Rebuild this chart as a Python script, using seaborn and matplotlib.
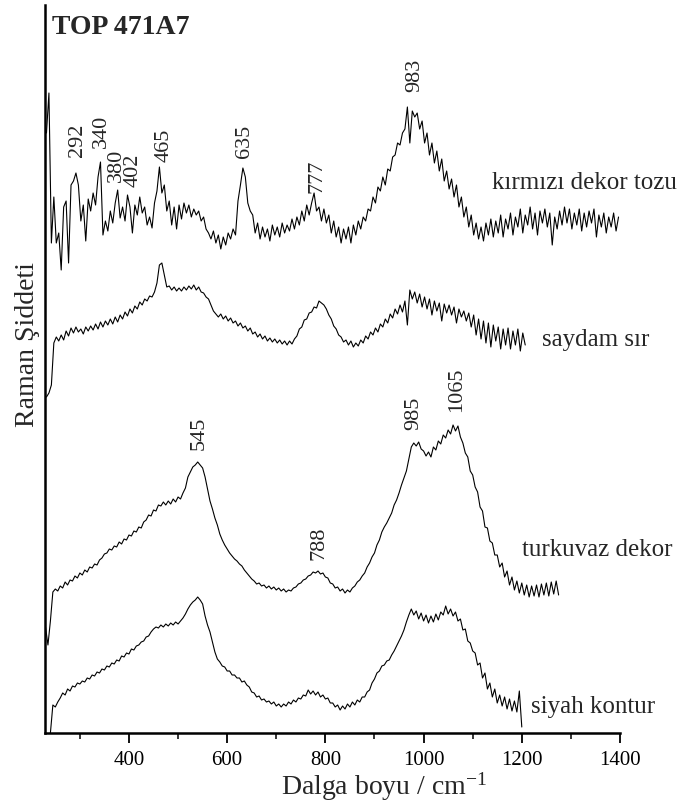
import numpy as np
import pandas as pd
import matplotlib
matplotlib.use("Agg")
import matplotlib.pyplot as plt
import seaborn as sns

# ---------------- data (intensity in arbitrary units, offset traces) ----------------
title = "TOP 471A7"
series_names = ["kırmızı dekor tozu", "saydam sır", "turkuvaz dekor", "siyah kontur"]

# wavenumber grids: start, step (cm-1)
kirmizi_start, kirmizi_step = 232, 5
saydam_start, saydam_step = 232, 5
turkuvaz_start, turkuvaz_step = 230, 5
siyah_start, siyah_step = 240, 5

kirmizi = [
    600, 640, 490, 536, 490, 500, 463, 526, 532, 470, 548, 552, 560, 548, 512, 528, 492, 534, 522, 540,
    528, 556, 571, 498, 512, 502, 522, 510, 530, 543, 515, 526, 512, 538, 526, 500, 528, 518, 536, 520,
    526, 508, 516, 505, 530, 542, 566, 540, 548, 522, 532, 508, 526, 504, 528, 514, 530, 520, 528, 516,
    524, 518, 522, 512, 516, 504, 500, 494, 502, 490, 498, 484, 496, 488, 500, 494, 504, 498, 532, 548,
    565, 556, 530, 522, 518, 500, 510, 494, 506, 496, 504, 492, 508, 498, 506, 496, 510, 500, 508, 502,
    514, 504, 516, 508, 522, 512, 528, 518, 530, 540, 522, 526, 512, 524, 510, 518, 500, 512, 496, 506,
    490, 504, 494, 506, 490, 508, 498, 512, 504, 516, 512, 524, 522, 536, 530, 546, 542, 556, 548, 564,
    562, 576, 578, 590, 588, 600, 604, 626, 590, 622, 616, 620, 604, 612, 590, 600, 578, 590, 570, 582,
    562, 574, 552, 562, 544, 554, 536, 548, 526, 536, 516, 526, 506, 518, 498, 510, 494, 506, 492, 510,
    498, 514, 496, 512, 500, 518, 496, 514, 504, 520, 498, 516, 506, 524, 500, 518, 508, 526, 504, 520,
    498, 522, 510, 524, 506, 520, 488, 516, 504, 522, 508, 526, 510, 524, 504, 520, 508, 524, 502, 520,
    506, 522, 510, 524, 496, 518, 506, 520, 500, 516, 506, 520, 502, 516,
]

saydam = [
    336, 340, 348, 390, 396, 392, 398, 393, 402, 397, 405, 400, 406, 401, 404, 399, 406, 402, 407, 403,
    409, 404, 411, 406, 412, 408, 414, 409, 416, 411, 418, 414, 421, 417, 424, 420, 427, 424, 431, 428,
    434, 432, 437, 436, 441, 450, 468, 470, 458, 446, 447, 443, 446, 442, 445, 442, 446, 443, 447, 444,
    448, 443, 446, 441, 440, 436, 434, 428, 422, 419, 416, 419, 414, 417, 412, 415, 410, 412, 407, 410,
    405, 407, 402, 405, 399, 401, 396, 399, 394, 397, 392, 395, 391, 394, 390, 393, 389, 392, 388, 392,
    389, 394, 397, 404, 406, 413, 414, 420, 421, 426, 425, 432, 430, 428, 424, 418, 414, 407, 404, 398,
    396, 391, 393, 388, 392, 386, 390, 387, 393, 390, 397, 394, 401, 398, 405, 401, 409, 406, 414, 410,
    419, 415, 424, 419, 428, 421, 432, 408, 443, 434, 441, 430, 439, 426, 436, 424, 434, 418, 432, 422,
    430, 412, 429, 420, 428, 418, 426, 410, 424, 416, 422, 412, 420, 406, 418, 398, 414, 394, 412, 390,
    410, 386, 408, 392, 406, 384, 404, 388, 405, 384, 402, 388, 404, 382, 400, 388,
]

turkuvaz = [
    106, 88, 112, 141, 144, 142, 147, 145, 151, 148, 153, 152, 157, 155, 160, 158, 163, 161, 166, 165,
    169, 168, 173, 175, 179, 180, 184, 183, 187, 186, 191, 189, 194, 193, 198, 197, 202, 201, 206, 205,
    211, 213, 218, 217, 223, 222, 228, 227, 231, 228, 232, 229, 234, 231, 236, 234, 240, 245, 256, 261,
    266, 268, 271, 268, 265, 256, 244, 232, 224, 215, 208, 199, 193, 188, 184, 180, 177, 174, 172, 169,
    167, 163, 160, 157, 154, 152, 149, 150, 147, 148, 145, 147, 144, 146, 143, 145, 142, 144, 141, 143,
    142, 145, 146, 149, 150, 153, 154, 157, 158, 161, 160, 162, 159, 160, 156, 155, 150, 149, 145, 146,
    142, 144, 140, 143, 141, 145, 147, 151, 153, 157, 160, 166, 170, 176, 180, 188, 193, 201, 206, 210,
    215, 220, 228, 233, 240, 248, 255, 262, 274, 286, 290, 287, 291, 284, 282, 277, 281, 276, 286, 283,
    292, 289, 298, 295, 303, 299, 308, 302, 307, 296, 290, 280, 276, 262, 258, 246, 241, 226, 222, 206,
    205, 192, 190, 178, 178, 166, 170, 156, 162, 148, 156, 143, 152, 140, 150, 138, 148, 136, 147, 137,
    148, 136, 149, 138, 150, 137, 151, 139, 152, 138,
]

siyah = [
    0, 28, 26, 31, 35, 40, 38, 44, 42, 47, 46, 50, 49, 52, 51, 55, 54, 58, 57, 61,
    60, 64, 63, 67, 66, 70, 69, 73, 72, 77, 76, 80, 79, 84, 83, 87, 88, 91, 92, 96,
    97, 101, 104, 106, 105, 108, 106, 109, 107, 110, 108, 111, 109, 112, 115, 119, 124, 128, 131, 133,
    136, 133, 129, 117, 108, 101, 91, 81, 74, 71, 67, 66, 62, 62, 58, 58, 55, 55, 51, 52,
    48, 46, 41, 40, 36, 37, 33, 34, 31, 32, 29, 31, 27, 29, 26, 29, 27, 31, 29, 33,
    31, 35, 34, 38, 37, 43, 39, 42, 38, 41, 36, 38, 34, 35, 30, 30, 26, 28, 23, 27,
    24, 29, 26, 31, 28, 33, 31, 36, 36, 41, 43, 50, 54, 60, 62, 67, 68, 72, 73, 78,
    82, 87, 92, 97, 103, 111, 118, 124, 118, 122, 114, 120, 112, 118, 110, 117, 111, 119, 113, 121,
    118, 127, 119, 124, 117, 121, 112, 114, 103, 104, 92, 90, 82, 80, 68, 70, 55, 60, 44, 50,
    36, 44, 30, 38, 27, 36, 24, 34, 22, 32, 21, 42, 6,
]

# peak annotations: label, wavenumber, height of label bottom
peak_labels = ["292", "340", "380", "402", "465", "635", "777", "983", "545", "788", "985", "1065"]
peak_x = [295, 344, 375, 408, 472, 636, 782, 981, 544, 788, 979, 1067]
peak_y = [576, 585, 551, 546, 571, 575, 540, 641, 283, 173, 303, 321]

# series name positions
name_x = [1139, 1242, 1201, 1219]
name_y = [550, 393, 183, 26]

xlim = (229, 1400)
ylim = (0, 728)
xticks_major = [400, 600, 800, 1000, 1200, 1400]
xticks_minor = [300, 500, 700, 900, 1100, 1300]

# ---------------- build long table ----------------
frames = []
for name, vals, start, step in [
    (series_names[0], kirmizi, kirmizi_start, kirmizi_step),
    (series_names[1], saydam, saydam_start, saydam_step),
    (series_names[2], turkuvaz, turkuvaz_start, turkuvaz_step),
    (series_names[3], siyah, siyah_start, siyah_step),
]:
    xs = start + step * np.arange(len(vals))
    frames.append(pd.DataFrame({"wn": xs, "I": vals, "series": name}))
df = pd.concat(frames, ignore_index=True)

# ---------------- plot ----------------
sns.set_theme(style="ticks")
plt.rcParams["font.family"] = ["Liberation Serif", "DejaVu Serif"]
plt.rcParams["mathtext.default"] = "regular"

fig = plt.figure(figsize=(6.81, 8.09), dpi=100)
ax = fig.add_axes([45 / 681, 76 / 809, 575 / 681, 728 / 809])

sns.lineplot(data=df, x="wn", y="I", hue="series", units="series",
             palette=["black"] * 4, estimator=None, sort=False,
             legend=False, linewidth=0.8, ax=ax)

ax.set_xlim(*xlim)
ax.set_ylim(*ylim)
ax.set_xticks(xticks_major)
ax.set_xticks(xticks_minor, minor=True)
ax.set_xticklabels([str(t) for t in xticks_major], fontsize=15)
ax.set_yticks([])
ax.tick_params(axis="x", which="major", direction="out", length=7, width=1.3, pad=6, colors="black")
ax.tick_params(axis="x", which="minor", direction="out", length=4.5, width=1.3)

for side in ["top", "right"]:
    ax.spines[side].set_visible(False)
for side in ["left", "bottom"]:
    ax.spines[side].set_linewidth(1.8)
    ax.spines[side].set_color("black")

ax.set_xlabel("Dalga boyu / cm$^{-1}$", fontsize=20, labelpad=2)
ax.xaxis.set_label_coords(0.09 + 0.5, -0.052)
ax.set_ylabel("Raman Şiddeti", fontsize=20, va="center")
ax.yaxis.set_label_coords(-0.03, 0.533)

ax.text(244, 705, title, fontsize=20, fontweight="bold", ha="left", va="center")

for lab, px, py in zip(peak_labels, peak_x, peak_y):
    ax.text(px, py, lab, rotation=90, fontsize=16, ha="center", va="bottom")

for name, nx, ny in zip(series_names, name_x, name_y):
    ax.text(nx, ny, name, fontsize=18, ha="left", va="center", clip_on=False)

fig.savefig("out.png", dpi=100)
